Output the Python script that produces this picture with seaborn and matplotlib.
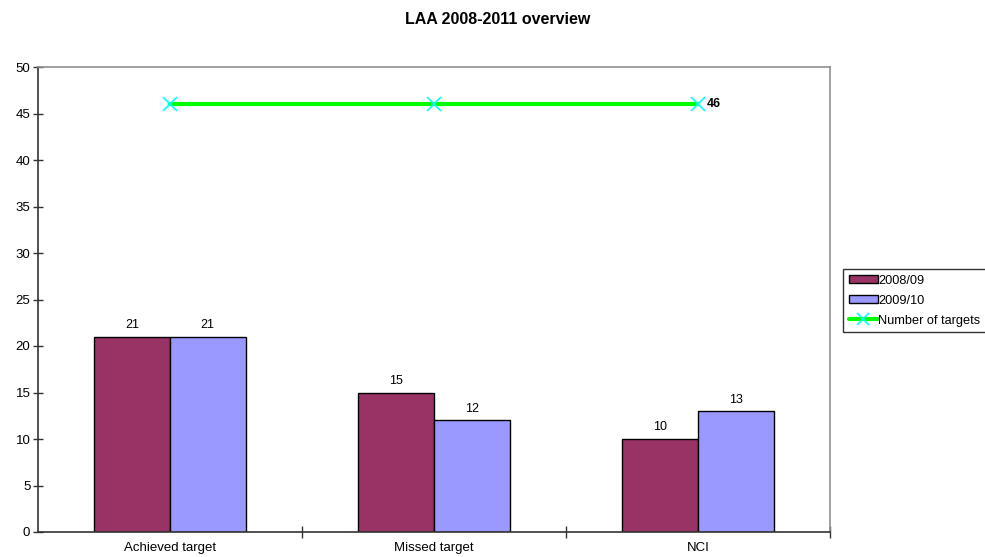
import matplotlib
matplotlib.use("Agg")
import matplotlib.pyplot as plt
import seaborn as sns
import numpy as np
import pandas as pd
from matplotlib.patches import Patch
from matplotlib.lines import Line2D

categories = ["Achieved target", "Missed target", "NCI"]
series_names = ["2008/09", "2009/10"]
values_0809 = [21, 15, 10]
values_0910 = [21, 12, 13]
targets = [46, 46, 46]
line_name = "Number of targets"
title = "LAA 2008-2011 overview"

colors = ["#993366", "#9999FF"]

sns.set_style("white")
plt.rcParams['font.family'] = ['Liberation Sans', 'DejaVu Sans']
plt.rcParams['text.color'] = 'black'
plt.rcParams['xtick.color'] = 'black'
plt.rcParams['ytick.color'] = 'black'
plt.rcParams['axes.labelcolor'] = 'black'

df = pd.DataFrame({
    "category": categories * 2,
    "series": [series_names[0]] * 3 + [series_names[1]] * 3,
    "value": values_0809 + values_0910,
})

fig = plt.figure(figsize=(9.85, 5.57), dpi=100)
ax = fig.add_axes([38/985, 25/557, 792/985, 465/557])

sns.barplot(data=df, x="category", y="value", hue="series", order=categories,
            hue_order=series_names, palette=colors, width=0.572, gap=0,
            edgecolor="black", linewidth=1, saturation=1, legend=False, ax=ax)

for cont in ax.containers:
    ax.bar_label(cont, padding=4, fontsize=9, color="black")

xpos = np.arange(len(categories))
ax.plot(xpos, targets, color="#00FF00", lw=3, zorder=3)
ax.plot(xpos, targets, ls="none", marker="x", color="#00FFFF", ms=10, mew=1.2, zorder=4)
ax.annotate(str(targets[-1]), (xpos[-1], targets[-1]), xytext=(6, 0),
            textcoords="offset points", va="center", ha="left",
            fontsize=9, fontweight="bold", color="black")

ax.set_xlim(-0.5, 2.5)
ax.set_ylim(0, 50)
ax.set_yticks(np.arange(0, 51, 5))
ax.set_xlabel("")
ax.set_ylabel("")
ax.tick_params(axis="y", direction="inout", length=7, width=1, color="#333333",
               labelsize=9.5, labelcolor="black", pad=2, left=True)
ax.tick_params(axis="x", which="major", length=0, labelsize=9.5,
               labelcolor="black", pad=7)
ax.set_xticks([0.5, 1.5, 2.5], minor=True)
ax.tick_params(axis="x", which="minor", direction="inout", length=8, width=1,
               color="#333333", bottom=True)

for s in ["top", "right"]:
    ax.spines[s].set_color("#909090")
    ax.spines[s].set_linewidth(1.2)
for s in ["left", "bottom"]:
    ax.spines[s].set_color("#333333")
    ax.spines[s].set_linewidth(1.2)

fig.text(498/985, 1 - 20/557, title, ha="center", va="center",
         fontsize=11.5, fontweight="bold", color="black")

handles = [Patch(facecolor=colors[0], edgecolor="black", lw=1),
           Patch(facecolor=colors[1], edgecolor="black", lw=1),
           Line2D([0], [0], color="#00FF00", lw=3, marker="x",
                  mec="#00FFFF", ms=8, mew=1.2)]
leg = fig.legend(handles, series_names + [line_name], loc="upper left",
                 bbox_to_anchor=(843/985, 1 - 269/557), fontsize=9.2,
                 frameon=True, fancybox=False, edgecolor="black",
                 handlelength=2.25, handleheight=0.55, handletextpad=0.05,
                 borderpad=0.45, labelspacing=0.62, borderaxespad=0)
leg.get_frame().set_linewidth(1)
for t in leg.get_texts():
    t.set_color("black")

fig.savefig("out.png", dpi=100)
